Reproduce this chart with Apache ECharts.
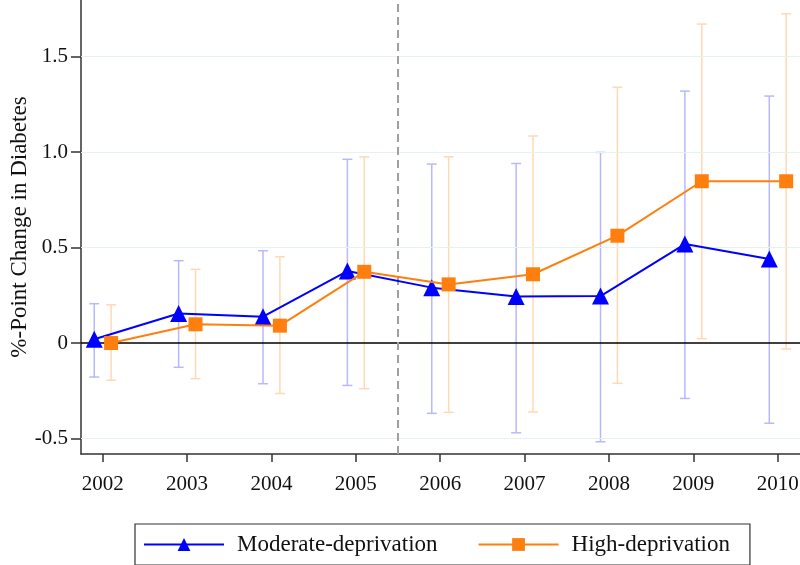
<!DOCTYPE html>
<html><head><meta charset="utf-8">
<script src="https://cdn.jsdelivr.net/npm/echarts@6/dist/echarts.min.js"></script>
<style>html,body{margin:0;padding:0;background:#fff}#c{width:800px;height:565px}</style>
</head><body><div id="c"></div>
<script>
const years = [2002, 2003, 2004, 2005, 2006, 2007, 2008, 2009, 2010];
const modEst = [0.02, 0.155, 0.138, 0.377, 0.29, 0.243, 0.246, 0.518, 0.44];
const modLow = [-0.178, -0.127, -0.213, -0.222, -0.368, -0.47, -0.517, -0.29, -0.42];
const modHigh = [0.206, 0.431, 0.483, 0.962, 0.937, 0.94, 0.998, 1.319, 1.293];
const highEst = [0.0, 0.098, 0.091, 0.373, 0.307, 0.36, 0.562, 0.847, 0.847];
const highLow = [-0.195, -0.187, -0.264, -0.239, -0.363, -0.361, -0.211, 0.023, -0.031];
const highHigh = [0.2, 0.386, 0.452, 0.975, 0.975, 1.084, 1.339, 1.67, 1.724];
const yTicks = [-0.5, 0, 0.5, 1.0, 1.5];
const policyYear = 2005.5;
const offset = 0.1;

const FONT = 'Liberation Serif';
const blue = '#0000ff', orange = '#ff7f0e';
const blueCI = '#b8b8ff', orangeCI = '#ffd8b4';

function errSeries(low, high, off, color) {
  return {
    type: 'custom', silent: true, z: 1,
    data: years.map((y, i) => [y + off, low[i], high[i]]),
    renderItem: function (params, api) {
      const x = api.value(0);
      const p1 = api.coord([x, api.value(1)]);
      const p2 = api.coord([x, api.value(2)]);
      const w = 5;
      const st = { stroke: color, lineWidth: 1.5 };
      return { type: 'group', children: [
        { type: 'line', shape: { x1: p1[0], y1: p1[1], x2: p2[0], y2: p2[1] }, style: st },
        { type: 'line', shape: { x1: p1[0] - w, y1: p1[1], x2: p1[0] + w, y2: p1[1] }, style: st },
        { type: 'line', shape: { x1: p2[0] - w, y1: p2[1], x2: p2[0] + w, y2: p2[1] }, style: st }
      ]};
    }
  };
}

const chart = echarts.init(document.getElementById('c'));
chart.setOption({
  animation: false,
  backgroundColor: '#fff',
  textStyle: { fontFamily: FONT },
  grid: { left: 81, right: 0, top: 0, bottom: 111, containLabel: false, outerBoundsMode: 'none' },
  xAxis: {
    type: 'value', min: 2001.743, max: 2010.264,
    axisLine: { show: true, onZero: false, lineStyle: { color: '#333', width: 1.5 } },
    axisTick: { show: true, length: 8, lineStyle: { color: '#333', width: 1.5 }, customValues: years },
    axisLabel: { fontFamily: FONT, fontSize: 21, color: '#111', margin: 20, customValues: years, formatter: v => String(v) },
    splitLine: { show: false }
  },
  yAxis: {
    type: 'value', min: -0.581, max: 1.796,
    name: '%-Point Change in Diabetes', nameLocation: 'middle', nameGap: 50, nameMoveOverlap: false,
    nameTextStyle: { fontFamily: FONT, fontSize: 23, color: '#111' },
    axisLine: { show: true, onZero: false, lineStyle: { color: '#333', width: 1.5 } },
    axisTick: { show: true, length: 10, lineStyle: { color: '#333', width: 1.5 }, customValues: yTicks },
    axisLabel: { fontFamily: FONT, fontSize: 21, color: '#111', margin: 13, customValues: yTicks,
      formatter: v => (Math.abs(v) < 1e-9 ? '0' : v.toFixed(1)) },
    splitLine: { show: false }
  },
  legend: {
    left: 135, top: 524,
    data: ['Moderate-deprivation', 'High-deprivation'],
    itemWidth: 80, itemHeight: 16, itemGap: 40,
    borderColor: '#333', borderWidth: 1.2, borderRadius: 0,
    padding: [9, 20, 9, 8],
    textStyle: { fontFamily: FONT, fontSize: 23, color: '#111', padding: [0, 0, 0, 8] }
  },
  series: [
    {
      type: 'line', name: 'gridlines', silent: true, data: [], z: 0,
      markLine: { silent: true, symbol: 'none', label: { show: false },
        lineStyle: { color: '#e6f2f2', width: 1.2, type: 'solid' },
        data: yTicks.filter(v => v !== 0).map(v => ({ yAxis: v })) }
    },
    {
      type: 'line', name: 'refs', silent: true, data: [], z: 2,
      markLine: { silent: true, symbol: 'none', label: { show: false },
        data: [
          { yAxis: 0, lineStyle: { color: '#000', width: 1.5, type: 'solid' } },
          { xAxis: policyYear, lineStyle: { color: '#a0a0a0', width: 2, type: [8, 5] } }
        ] }
    },
    errSeries(modLow, modHigh, -offset, blueCI),
    errSeries(highLow, highHigh, offset, orangeCI),
    {
      type: 'line', name: 'Moderate-deprivation', z: 5,
      data: years.map((y, i) => [y - offset, modEst[i]]),
      symbol: 'triangle', symbolSize: 17,
      lineStyle: { color: blue, width: 2 }, itemStyle: { color: blue }
    },
    {
      type: 'line', name: 'High-deprivation', z: 6,
      data: years.map((y, i) => [y + offset, highEst[i]]),
      symbol: 'rect', symbolSize: 14,
      lineStyle: { color: orange, width: 2 }, itemStyle: { color: orange }
    }
  ]
});
</script></body></html>
